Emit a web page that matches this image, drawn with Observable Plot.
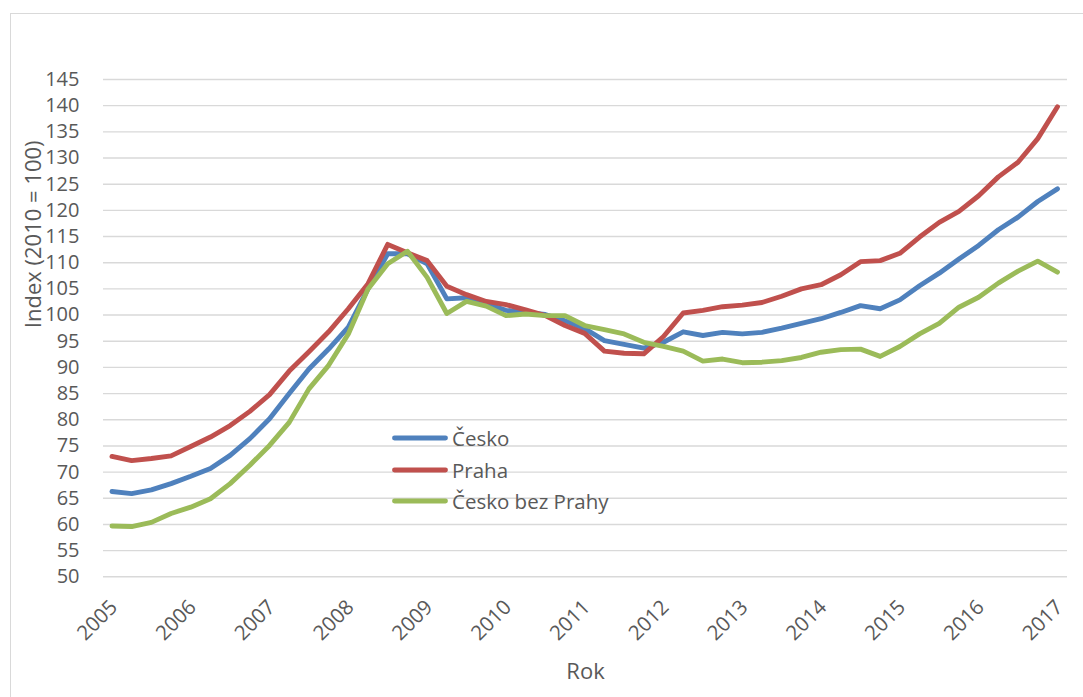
<!DOCTYPE html>
<html>
<head>
<meta charset="utf-8">
<script src="https://cdn.jsdelivr.net/npm/d3@7"></script>
<script src="https://cdn.jsdelivr.net/npm/@observablehq/plot@0.6"></script>
<style>
  html, body { margin: 0; padding: 0; background: #fff; overflow: hidden; }
  body { width: 1083px; height: 697px; position: relative; font-family: "Open Sans", sans-serif; }
  #frame { position: absolute; left: 10px; top: 13px; width: 1100px; height: 720px; border: 1.5px solid #d9d9d9; box-sizing: border-box; }
  #chart { position: absolute; left: 0; top: 0; }
  #legend { position: absolute; left: 392px; top: 424px; }
  .row { position: absolute; left: 0; display: flex; align-items: center; height: 28px; white-space: nowrap; }
  .row span { font-size: 20.5px; color: #595959; margin-left: 4px; }
</style>
</head>
<body>
<div id="frame"></div>
<div id="chart"></div>
<div id="legend"></div>
<script>
// Tick labels (one per year, every 4th quarterly point)
const yearLabels = ["2005","2006","2007","2008","2009","2010","2011","2012","2013","2014","2015","2016","2017"];
const seriesNames = ["Česko", "Praha", "Česko bez Prahy"];
const seriesColors = ["#4f81bd", "#c0504d", "#9bbb59"];
const yTicks = [50,55,60,65,70,75,80,85,90,95,100,105,110,115,120,125,130,135,140,145];

// Quarterly index values, 2005 Q1 – 2017 Q1
const cesko = [66.3,65.9,66.6,67.8,69.2,70.7,73.2,76.4,80.2,85.0,89.7,93.5,97.7,105.0,111.7,111.7,109.8,103.1,103.3,102.2,100.9,100.5,100.1,98.9,97.4,95.1,94.4,93.7,94.8,96.8,96.1,96.7,96.4,96.7,97.5,98.4,99.3,100.5,101.8,101.2,102.9,105.6,108.0,110.7,113.3,116.3,118.7,121.7,124.1];
const praha = [73.0,72.2,72.6,73.1,74.9,76.7,78.9,81.6,84.8,89.3,93.0,96.8,101.2,106.0,113.5,111.9,110.4,105.5,103.9,102.6,102.0,101.0,99.9,98.0,96.5,93.1,92.7,92.6,95.9,100.4,100.9,101.6,101.9,102.4,103.6,105.0,105.8,107.7,110.2,110.4,111.8,114.9,117.7,119.8,122.8,126.4,129.2,133.7,139.8];
const bezPrahy = [59.7,59.6,60.4,62.1,63.3,64.9,67.8,71.3,75.1,79.5,85.9,90.4,96.4,105.0,109.8,112.2,107.2,100.3,102.6,101.7,99.9,100.2,99.9,99.9,98.0,97.2,96.4,94.8,94.0,93.1,91.2,91.6,90.9,91.0,91.3,91.9,92.9,93.4,93.5,92.1,94.0,96.4,98.4,101.5,103.4,106.1,108.4,110.3,108.2];

const seriesValues = [cesko, praha, bezPrahy];
const rows = seriesNames.flatMap((s, k) => seriesValues[k].map((v, i) => ({series: s, i, v})));

const chart = Plot.plot({
  width: 1083,
  height: 697,
  marginLeft: 103,
  marginRight: 16,
  marginTop: 79,
  marginBottom: 120.7,
  style: {fontFamily: "Open Sans, sans-serif", fontSize: "20px", color: "#595959", background: "transparent", overflow: "visible"},
  x: {type: "linear", domain: [-0.43, 48.51]},
  y: {domain: [50, 145]},
  color: {domain: seriesNames, range: seriesColors},
  marks: [
    Plot.ruleY(yTicks, {stroke: "#d9d9d9", strokeWidth: 1.4}),
    Plot.axisY({ticks: yTicks, tickSize: 0, tickPadding: 24, label: null, fontSize: 20, fill: "#595959"}),
    Plot.axisX({ticks: d3.range(0, 49, 4), tickFormat: i => yearLabels[i / 4], tickRotate: -45, tickSize: 0, tickPadding: 22, dy: 5, dx: 2, label: null, fontSize: 20.5, fill: "#595959"}),
    Plot.line(rows, {x: "i", y: "v", z: "series", stroke: "series", strokeWidth: 4.9, strokeLinejoin: "round", strokeLinecap: "round"}),
    Plot.text(["Rok"], {frameAnchor: "bottom", lineAnchor: "middle", dy: 95, fontSize: 22, fill: "#595959"}),
    Plot.text(["Index (2010 = 100)"], {frameAnchor: "left", lineAnchor: "middle", rotate: -90, dx: -70, fontSize: 22, fill: "#595959"})
  ]
});
document.getElementById("chart").appendChild(chart);

// Legend
const legend = document.getElementById("legend");
seriesNames.forEach((name, k) => {
  const row = document.createElement("div");
  row.className = "row";
  row.style.top = (k * 31.5) + "px";
  row.innerHTML = `<svg width="56" height="10"><line x1="2.5" y1="5" x2="53.5" y2="5" stroke="${seriesColors[k]}" stroke-width="4.9" stroke-linecap="round"/></svg><span>${name}</span>`;
  legend.appendChild(row);
});
</script>
</body>
</html>
